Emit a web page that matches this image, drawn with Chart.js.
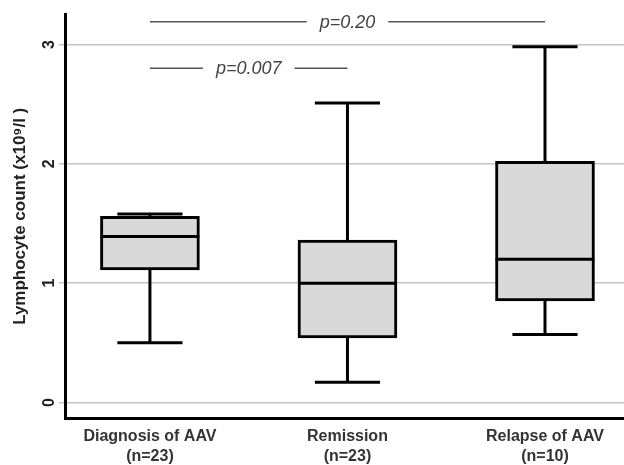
<!DOCTYPE html>
<html>
<head>
<meta charset="utf-8">
<script src="https://cdn.jsdelivr.net/npm/chart.js@4.4.1/dist/chart.umd.min.js"></script>
<style>
  html, body { margin: 0; padding: 0; background: #fff; }
  #wrap { width: 624px; height: 465px; position: relative; }
</style>
</head>
<body>
<div id="wrap"><canvas id="chart1"></canvas></div>
<script>
const groups = ['Diagnosis of AAV', 'Remission', 'Relapse of AAV'];
const groupN = ['(n=23)', '(n=23)', '(n=10)'];
const whiskerLow = [0.50, 0.17, 0.57];
const q1 = [1.11, 0.54, 0.85];
const median = [1.39, 1.00, 1.20];
const q3 = [1.56, 1.36, 2.02];
const whiskerHigh = [1.58, 2.51, 2.98];
const yTicks = [0, 1, 2, 3];
const pairs = [[0, 2], [0, 1]];
const pLabels = ['p=0.20', 'p=0.007'];
const pLevels = [3.19, 2.80];

Chart.defaults.font.family = '"Liberation Sans", Arial, sans-serif';

const BOX_HALF = 0.25;
const CAP_HALF = 0.165;
const gap = i => ({ x: i, y: null });

// whiskers + caps as broken line segments
const whiskerPts = [];
groups.forEach((g, i) => {
  whiskerPts.push({ x: i, y: q3[i] }, { x: i, y: whiskerHigh[i] }, gap(i));
  whiskerPts.push({ x: i - CAP_HALF, y: whiskerHigh[i] }, { x: i + CAP_HALF, y: whiskerHigh[i] }, gap(i));
  whiskerPts.push({ x: i, y: q1[i] }, { x: i, y: whiskerLow[i] }, gap(i));
  whiskerPts.push({ x: i - CAP_HALF, y: whiskerLow[i] }, { x: i + CAP_HALF, y: whiskerLow[i] }, gap(i));
});
const medianPts = [];
groups.forEach((g, i) => {
  medianPts.push({ x: i - BOX_HALF, y: median[i] }, { x: i + BOX_HALF, y: median[i] }, gap(i));
});

const sigPlugin = {
  id: 'sig',
  afterDatasetsDraw(chart) {
    const { ctx, scales: { x, y } } = chart;
    ctx.save();
    ctx.font = 'italic 18px "Liberation Sans", Arial, sans-serif';
    ctx.textAlign = 'center';
    ctx.textBaseline = 'middle';
    pairs.forEach(([a, b], k) => {
      const x1 = x.getPixelForValue(a), x2 = x.getPixelForValue(b);
      const yy = y.getPixelForValue(pLevels[k]);
      const mid = (x1 + x2) / 2;
      const w = ctx.measureText(pLabels[k]).width / 2 + 13;
      ctx.strokeStyle = '#555';
      ctx.lineWidth = 1.5;
      ctx.beginPath();
      ctx.moveTo(x1, yy); ctx.lineTo(mid - w, yy);
      ctx.moveTo(mid + w, yy); ctx.lineTo(x2, yy);
      ctx.stroke();
      ctx.fillStyle = '#444';
      ctx.fillText(pLabels[k], mid, yy + 1);
    });
    ctx.restore();
  }
};

const ctx = document.getElementById('chart1');

new Chart(ctx, {
  data: {
    datasets: [
      {
        type: 'line',
        data: medianPts,
        borderColor: '#000',
        borderWidth: 3,
        pointRadius: 0,
        spanGaps: false,
        order: 0
      },
      {
        type: 'bar',
        data: groups.map((g, i) => ({ x: i, y: [q1[i], q3[i]] })),
        backgroundColor: '#d9d9d9',
        borderColor: '#000',
        borderWidth: 3,
        borderSkipped: false,
        barThickness: 99,
        order: 1
      },
      {
        type: 'line',
        data: whiskerPts,
        borderColor: '#000',
        borderWidth: 3,
        pointRadius: 0,
        spanGaps: false,
        order: 2
      }
    ]
  },
  options: {
    responsive: true,
    maintainAspectRatio: false,
    animation: false,
    layout: { padding: { top: 10, left: 0, right: 0, bottom: 0 } },
    plugins: {
      legend: { display: false },
      tooltip: { enabled: false }
    },
    scales: {
      x: {
        type: 'linear',
        min: -0.43,
        max: 2.4,
        offset: false,
        afterBuildTicks: s => { s.ticks = groups.map((g, i) => ({ value: i })); },
        afterFit: s => { s.height = 47; },
        grid: { display: false, drawTicks: false, offset: false },
        border: { display: true, color: '#000', width: 3 },
        ticks: {
          callback: (v, i) => [groups[i], groupN[i]],
          font: { size: 16, weight: 'bold', lineHeight: 1.25 },
          color: '#333',
          padding: 9,
          maxRotation: 0,
          autoSkip: false
        }
      },
      y: {
        min: -0.13,
        max: 3.25,
        afterBuildTicks: s => { s.ticks = yTicks.map(v => ({ value: v })); },
        afterFit: s => { s.width = 65; },
        grid: { color: '#c4c4c4', lineWidth: 1.5, tickLength: 6 },
        border: { display: true, color: '#000', width: 3 },
        ticks: {
          minRotation: 90,
          maxRotation: 90,
          crossAlign: 'center',
          padding: 5,
          font: { size: 16, weight: 'bold' },
          color: '#222'
        },
        title: {
          display: true,
          text: 'Lymphocyte count (x10⁹/l )',
          font: { size: 17, weight: 'bold' },
          color: '#222',
          padding: { top: 10, bottom: 0 }
        }
      }
    }
  },
  plugins: [sigPlugin]
});
</script>
</body>
</html>
